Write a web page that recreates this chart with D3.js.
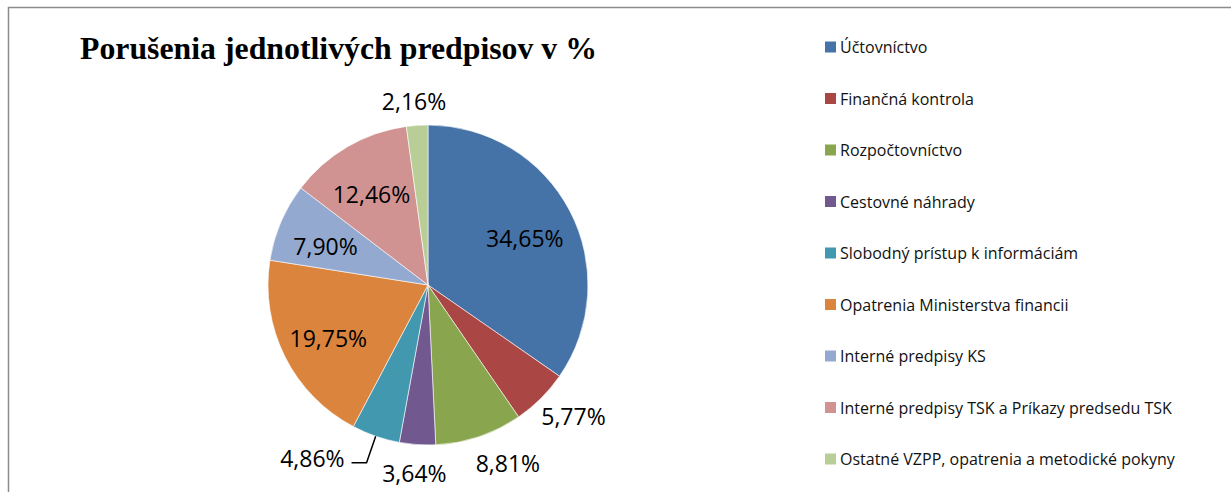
<!DOCTYPE html>
<html>
<head>
<meta charset="utf-8">
<script src="https://cdn.jsdelivr.net/npm/d3@7"></script>
<style>
  body { margin: 0; background: #fff; }
  svg { display: block; }
</style>
</head>
<body>
<svg id="chart"></svg>
<script>
const width = 1231;
const height = 492;

// data
const categories = [
  'Účtovníctvo',
  'Finančná kontrola',
  'Rozpočtovníctvo',
  'Cestovné náhrady',
  'Slobodný prístup k informáciám',
  'Opatrenia Ministerstva financii',
  'Interné predpisy KS',
  'Interné predpisy TSK a Príkazy predsedu TSK',
  'Ostatné VZPP, opatrenia a metodické pokyny'
];
const values = [34.65, 5.77, 8.81, 3.64, 4.86, 19.75, 7.90, 12.46, 2.16];
const labels = ['34,65%', '5,77%', '8,81%', '3,64%', '4,86%', '19,75%', '7,90%', '12,46%', '2,16%'];
// where Excel put each data label
const placement = ['in', 'out', 'out', 'out', 'leader', 'in', 'in', 'in', 'out'];
const colors = ['#4572A7', '#AA4643', '#89A54E', '#71588F', '#4198AF', '#DB843D', '#93A9CF', '#D19392', '#B9CD96'];

const cx = 428, cy = 285, radius = 160;

const svg = d3.select('#chart')
  .attr('width', width)
  .attr('height', height);

// outer frame (bottom and right run off the picture)
svg.append('path')
  .attr('d', `M8.5,${height + 2} V7.5 H${width + 2}`)
  .attr('fill', 'none')
  .attr('stroke', '#8c8c8c')
  .attr('stroke-width', 1.5);

svg.append('text')
  .attr('x', 80)
  .attr('y', 58.5)
  .attr('font-family', '"Liberation Serif", "Times New Roman", serif')
  .attr('font-weight', 'bold')
  .attr('font-size', 32)
  .attr('textLength', 517)
  .attr('lengthAdjust', 'spacingAndGlyphs')
  .attr('fill', '#000')
  .text('Porušenia jednotlivých predpisov v %');

const pie = d3.pie().sort(null).value(d => d);
const arcs = pie(values);
const arc = d3.arc().innerRadius(0).outerRadius(radius);

const g = svg.append('g').attr('transform', `translate(${cx},${cy})`);

g.selectAll('path')
  .data(arcs)
  .enter()
  .append('path')
  .attr('d', arc)
  .attr('fill', (d, i) => colors[i])
  .attr('stroke', '#fff')
  .attr('stroke-width', 0.6);

// labels: big slices inside, small slices just outside the rim
const labelFont = 23;
const inner = d3.arc().innerRadius(radius * 0.69).outerRadius(radius * 0.69);
const mid = d => (d.startAngle + d.endAngle) / 2;

const lbl = g.selectAll('.lbl')
  .data(arcs)
  .enter()
  .append('text')
  .attr('class', 'lbl')
  .attr('font-family', '"Open Sans", sans-serif')
  .attr('font-size', labelFont)
  .attr('fill', '#000')
  .attr('dominant-baseline', 'central')
  .text((d, i) => labels[i]);

lbl.each(function(d, i) {
  const t = d3.select(this);
  const a = mid(d);
  const s = Math.sin(a), c = -Math.cos(a);
  if (placement[i] === 'in') {
    const p = inner.centroid(d);
    t.attr('x', p[0] - 1).attr('y', p[1] + 4).attr('text-anchor', 'middle');
  } else if (placement[i] === 'leader') {
    const r1 = radius + 28;
    const x0 = s * radius, y0 = c * radius;
    const x1 = s * r1, y1 = c * r1;
    const x2 = x1 - 15;
    g.append('path')
      .attr('d', `M${x0},${y0} L${x1},${y1} L${x2},${y1}`)
      .attr('fill', 'none')
      .attr('stroke', '#000')
      .attr('stroke-width', 1.5);
    t.attr('x', x2 - 7).attr('y', y1 - 5).attr('text-anchor', 'end');
  } else {
    const w = this.getComputedTextLength();
    const h = labelFont * 0.95;
    const r1 = radius + 14;
    // Excel pushed the 8,81% label a bit right, away from 3,64%
    const px = s * r1 + s * w / 2 + (s > 0.2 && c > 0.9 ? 14 : 0);
    const py = c * r1 + c * h / 2 + (c > 0.9 ? 3 : 0);
    t.attr('x', px).attr('y', py).attr('text-anchor', 'middle');
  }
});

// legend
const legendY = d3.scalePoint().domain(d3.range(categories.length)).range([47, 459]);
const legend = svg.append('g');
const row = legend.selectAll('g')
  .data(categories)
  .enter()
  .append('g')
  .attr('transform', (d, i) => `translate(825,${legendY(i)})`);

row.append('rect')
  .attr('x', 0)
  .attr('y', -5.5)
  .attr('width', 11)
  .attr('height', 11)
  .attr('fill', (d, i) => colors[i]);

row.append('text')
  .attr('x', 15)
  .attr('y', 0)
  .attr('dominant-baseline', 'central')
  .attr('font-family', '"Open Sans", sans-serif')
  .attr('font-size', 16)
  .attr('fill', '#111')
  .text(d => d);
</script>
</body>
</html>
